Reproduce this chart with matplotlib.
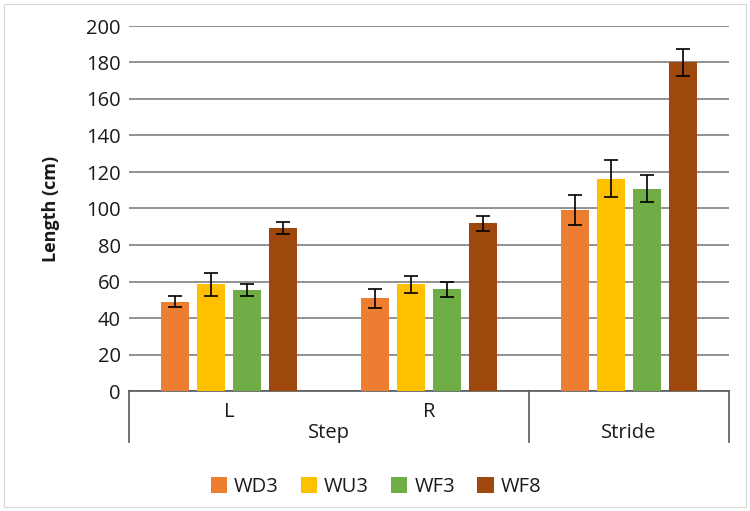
import numpy as np
import matplotlib
matplotlib.use("Agg")
from matplotlib import pyplot as plt
from matplotlib.patches import Rectangle
import matplotlib.transforms as mtransforms

plt.rcParams['font.family'] = ['Open Sans', 'DejaVu Sans']

# data
sub_labels = ["L", "R", ""]
group_labels = ["Step", "Stride"]
series = ["WD3", "WU3", "WF3", "WF8"]
colors = ["#ED7D31", "#FFC000", "#70AD47", "#9E480E"]

wd3 = [49.0, 50.7, 99.3]
wu3 = [58.5, 58.4, 116.4]
wf3 = [55.2, 55.7, 110.9]
wf8 = [89.2, 91.8, 180.0]
values = [wd3, wu3, wf3, wf8]

wd3_err = [3.2, 5.0, 8.3]
wu3_err = [6.2, 4.7, 10.3]
wf3_err = [3.2, 4.0, 7.5]
wf8_err = [3.4, 4.0, 7.5]
errors = [wd3_err, wu3_err, wf3_err, wf8_err]

fig = plt.figure(figsize=(7.5, 5.11), dpi=100)
ax = fig.add_axes([129/750, 1-391/511, 600/750, 365/511])

# faint outer border
fig.patches.append(Rectangle((4/750, 4/511), 742/750, 503/511, transform=fig.transFigure,
                             fill=False, edgecolor="#d9d9d9", linewidth=0.8))

x = np.arange(len(sub_labels))
step = 0.18
width = 0.14
for i, (name, vals, errs, col) in enumerate(zip(series, values, errors, colors)):
    ax.bar(x + (i - 1.5) * step, vals, width, color=col, label=name, zorder=3,
           yerr=errs, error_kw=dict(ecolor="black", elinewidth=1.2, capsize=5, capthick=1.2))

ax.set_xlim(-0.5, 2.5)
ax.set_ylim(0, 200)
ax.set_yticks(np.arange(0, 201, 20))
ax.yaxis.grid(True, color="#7f7f7f", linewidth=1.2, zorder=0)
ax.set_axisbelow(True)
ax.tick_params(axis="y", length=0, pad=6, labelsize=14.5, labelcolor="#1a1a1a")
ax.tick_params(axis="x", length=0, pad=8, labelsize=14.5, labelcolor="#1a1a1a")
ax.set_xticks(x)
ax.set_xticklabels(sub_labels)
for s in ["top", "right", "left"]:
    ax.spines[s].set_visible(False)
ax.spines["bottom"].set_color("#595959")
ax.spines["bottom"].set_linewidth(1.2)

ax.set_ylabel("Length (cm)", fontsize=13, fontweight="bold", labelpad=19, color="#1a1a1a")

# category grouping lines and labels
trans = mtransforms.blended_transform_factory(ax.transData, ax.transAxes)
for xv in [-0.5, 1.5, 2.5]:
    ax.plot([xv, xv], [0, -51/365], transform=trans, color="#595959", linewidth=1.2, clip_on=False)
ax.text(0.5, -42/365, group_labels[0], transform=trans, ha="center", va="center",
        fontsize=14.5, color="#1a1a1a")
ax.text(2.0, -42/365, group_labels[1], transform=trans, ha="center", va="center",
        fontsize=14.5, color="#1a1a1a")

ax.legend(loc="center", bbox_to_anchor=(376/750, 1-487/511), bbox_transform=fig.transFigure,
          ncol=4, frameon=False, fontsize=14.5, handlelength=0.8, handleheight=0.8,
          handletextpad=0.35, columnspacing=1.1, labelcolor="#1a1a1a")

fig.savefig("out.png", dpi=100)
